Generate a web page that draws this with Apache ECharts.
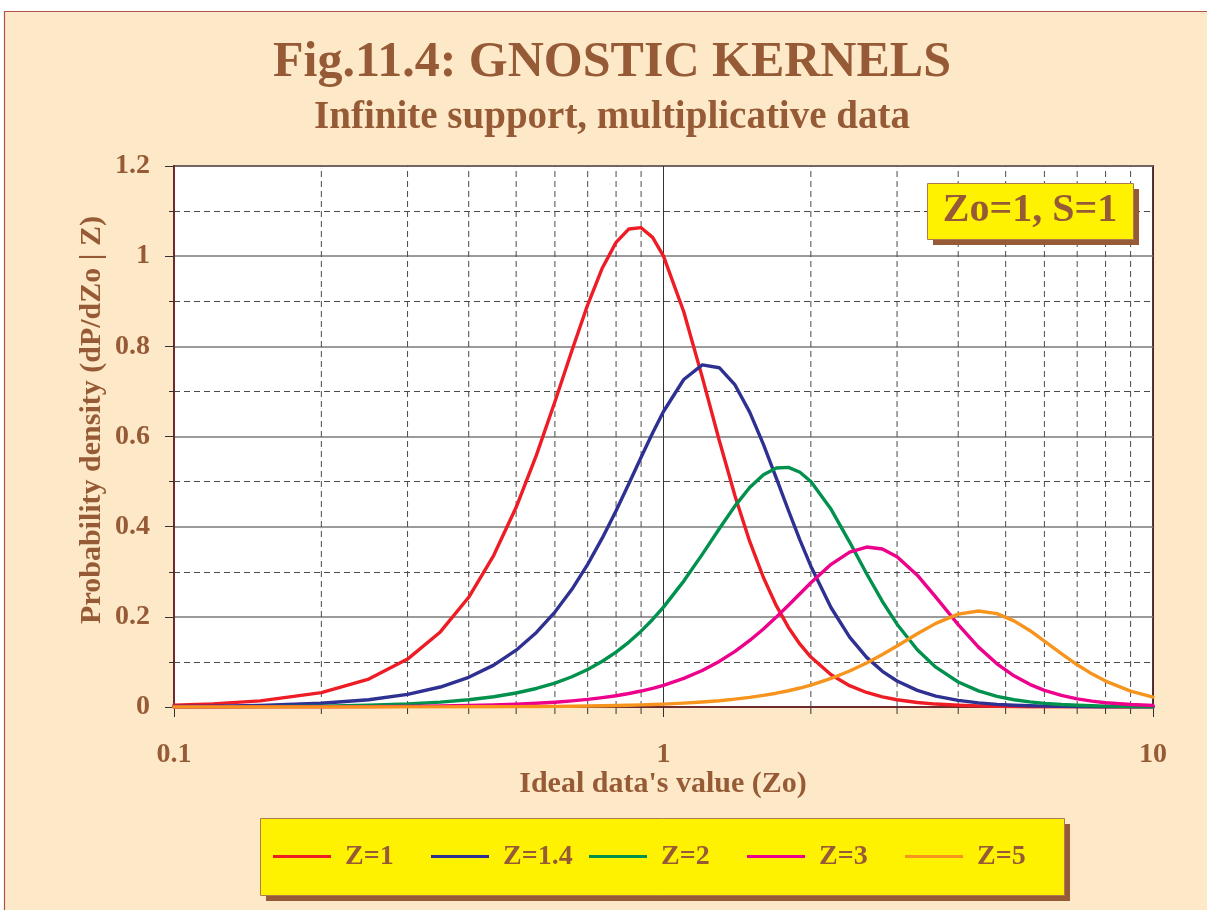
<!DOCTYPE html>
<html>
<head>
<meta charset="utf-8">
<title>Fig.11.4: GNOSTIC KERNELS</title>
<script src="https://cdn.jsdelivr.net/npm/echarts@6/dist/echarts.min.js"></script>
<style>
  html, body { margin: 0; padding: 0; background: #ffffff; }
  #chart { width: 1207px; height: 910px; }
</style>
</head>
<body>
<div id="chart"></div>
<script>
// Ideal data values Zo (log-scaled abscissa)
const zo = [0.1, 0.12, 0.15, 0.2, 0.25, 0.3, 0.35, 0.4, 0.45, 0.5,
  0.55, 0.6, 0.65, 0.7, 0.75, 0.8, 0.85, 0.9, 0.95, 1,
  1.1, 1.2, 1.3, 1.4, 1.5, 1.6, 1.7, 1.8, 1.9, 2,
  2.2, 2.4, 2.6, 2.8, 3, 3.3, 3.6, 4, 4.4, 4.8,
  5.2, 5.6, 6, 6.5, 7, 7.5, 8, 9, 10];

// Probability density dP/dZo for each observed value Z
const densZ1 = [0.0040, 0.0069, 0.0135, 0.0319, 0.0620, 0.1063, 0.1665, 0.2434, 0.3364, 0.4429,
  0.5586, 0.6771, 0.7909, 0.8922, 0.9738, 1.0307, 1.0604, 1.0632, 1.0416, 1.0000,
  0.8768, 0.7317, 0.5910, 0.4682, 0.3673, 0.2872, 0.2247, 0.1765, 0.1393, 0.1107,
  0.0714, 0.0473, 0.0322, 0.0225, 0.0161, 0.0101, 0.0065, 0.0039, 0.0024, 0.0016,
  0.0011, 0.0007, 0.0005, 0.0003, 0.0002, 0.0002, 0.0001, 0.0001, 0.0000];
const densZ14 = [0.0010, 0.0018, 0.0035, 0.0083, 0.0162, 0.0280, 0.0443, 0.0658, 0.0929, 0.1260,
  0.1653, 0.2105, 0.2611, 0.3164, 0.3750, 0.4353, 0.4956, 0.5538, 0.6077, 0.6555,
  0.7265, 0.7589, 0.7526, 0.7143, 0.6541, 0.5825, 0.5077, 0.4359, 0.3702, 0.3123,
  0.2201, 0.1550, 0.1101, 0.0791, 0.0576, 0.0368, 0.0243, 0.0146, 0.0091, 0.0059,
  0.0040, 0.0028, 0.0020, 0.0013, 0.0009, 0.0007, 0.0005, 0.0003, 0.0002];
const densZ2 = [0.0003, 0.0004, 0.0008, 0.0020, 0.0039, 0.0067, 0.0107, 0.0160, 0.0227, 0.0310,
  0.0411, 0.0531, 0.0671, 0.0832, 0.1014, 0.1217, 0.1440, 0.1682, 0.1941, 0.2215,
  0.2793, 0.3386, 0.3955, 0.4461, 0.4869, 0.5154, 0.5302, 0.5316, 0.5208, 0.5000,
  0.4384, 0.3659, 0.2955, 0.2341, 0.1837, 0.1270, 0.0883, 0.0554, 0.0357, 0.0237,
  0.0161, 0.0113, 0.0081, 0.0054, 0.0038, 0.0027, 0.0019, 0.0011, 0.0006];
const densZ3 = [0.0000, 0.0001, 0.0002, 0.0004, 0.0008, 0.0013, 0.0021, 0.0032, 0.0045, 0.0062,
  0.0082, 0.0106, 0.0135, 0.0168, 0.0207, 0.0250, 0.0299, 0.0354, 0.0415, 0.0482,
  0.0634, 0.0811, 0.1012, 0.1235, 0.1476, 0.1731, 0.1994, 0.2257, 0.2513, 0.2755,
  0.3164, 0.3436, 0.3548, 0.3504, 0.3333, 0.2923, 0.2439, 0.1826, 0.1328, 0.0957,
  0.0691, 0.0502, 0.0369, 0.0256, 0.0180, 0.0130, 0.0095, 0.0054, 0.0032];
const densZ5 = [0.0000, 0.0000, 0.0000, 0.0001, 0.0001, 0.0002, 0.0003, 0.0004, 0.0006, 0.0008,
  0.0011, 0.0014, 0.0018, 0.0022, 0.0027, 0.0033, 0.0039, 0.0047, 0.0055, 0.0064,
  0.0085, 0.0110, 0.0139, 0.0174, 0.0213, 0.0257, 0.0306, 0.0361, 0.0421, 0.0487,
  0.0633, 0.0798, 0.0977, 0.1165, 0.1354, 0.1625, 0.1855, 0.2061, 0.2130, 0.2070,
  0.1911, 0.1697, 0.1463, 0.1182, 0.0936, 0.0735, 0.0574, 0.0353, 0.0221];

const seriesNames = ['Z=1', 'Z=1.4', 'Z=2', 'Z=3', 'Z=5'];
const seriesValues = [densZ1, densZ14, densZ2, densZ3, densZ5];
const seriesColors = ['#ee1d25', '#2e3192', '#00914c', '#ec008c', '#f7941d'];

// Intermediate decade positions that get dashed grid lines and short ticks
const minorX = [0.2, 0.3, 0.4, 0.5, 0.6, 0.7, 0.8, 0.9, 2, 3, 4, 5, 6, 7, 8, 9];

const BROWN = '#965b36';
const FONT = '"Liberation Serif", "Times New Roman", serif';

const chart = echarts.init(document.getElementById('chart'), null, { renderer: 'canvas' });

const lineSeries = seriesNames.map((name, k) => ({
  name: name,
  type: 'line',
  data: zo.map((x, i) => [x, seriesValues[k][i]]),
  showSymbol: false,
  symbol: 'none',
  smooth: false,
  z: 3,
  lineStyle: { color: seriesColors[k], width: 3.4, join: 'round', cap: 'round' },
  itemStyle: { color: seriesColors[k] }
}));

// Dashed verticals at 2..9 within each decade, plus their outward ticks
const minorGrid = {
  type: 'custom',
  name: 'minor-grid',
  clip: false,
  silent: true,
  z: 1,
  data: minorX.map(v => [v, 0]),
  encode: { x: 0, y: 1 },
  renderItem: function (params, api) {
    const x = api.value(0);
    const top = api.coord([x, 1.2]);
    const bot = api.coord([x, 0]);
    return {
      type: 'group',
      children: [
        {
          type: 'line',
          shape: { x1: bot[0], y1: bot[1], x2: top[0], y2: top[1] },
          style: { stroke: '#4a4a4a', lineWidth: 1, lineDash: [6, 4] }
        },
        {
          type: 'line',
          shape: { x1: bot[0], y1: bot[1], x2: bot[0], y2: bot[1] + 7 },
          style: { stroke: '#333333', lineWidth: 1 }
        }
      ]
    };
  }
};

const option = {
  backgroundColor: '#fde9c8',
  animation: false,
  textStyle: { fontFamily: FONT },
  grid: {
    left: 174, top: 166, width: 979, height: 541,
    show: true,
    backgroundColor: '#ffffff',
    borderColor: '#6e2b2e',
    borderWidth: 2
  },
  xAxis: {
    type: 'log',
    logBase: 10,
    min: 0.1,
    max: 10,
    axisLine: { show: true, lineStyle: { color: '#6e2b2e', width: 2 } },
    axisTick: { show: true, length: 10, lineStyle: { color: '#333333', width: 1 } },
    axisLabel: {
      color: BROWN, fontFamily: FONT, fontWeight: 'bold', fontSize: 28,
      margin: 34
    },
    splitLine: { show: true, lineStyle: { color: '#333333', width: 1 } },
    minorTick: { show: false },
    minorSplitLine: { show: false }
  },
  yAxis: {
    type: 'value',
    min: 0,
    max: 1.2,
    interval: 0.2,
    axisLine: { show: true, lineStyle: { color: '#6e2b2e', width: 2 } },
    axisTick: { show: true, length: 9, lineStyle: { color: '#333333', width: 1 } },
    minorTick: { show: true, splitNumber: 2, length: 5, lineStyle: { color: '#333333', width: 1 } },
    axisLabel: {
      color: BROWN, fontFamily: FONT, fontWeight: 'bold', fontSize: 28,
      margin: 24
    },
    splitLine: { show: true, lineStyle: { color: '#7a7a7a', width: 1.5 } },
    minorSplitLine: { show: true, lineStyle: { color: '#4a4a4a', width: 1, type: [6, 4] } }
  },
  legend: {
    data: seriesNames,
    left: 260,
    top: 818,
    padding: [24, 12, 24, 13],
    itemWidth: 58,
    itemHeight: 3,
    itemGap: 11,
    z: 6,
    icon: 'path://M0,0 L58,0 L58,3 L0,3 Z',
    textStyle: {
      color: BROWN, fontFamily: FONT, fontWeight: 'bold', fontSize: 28,
      width: 75, lineHeight: 29, padding: [0, 0, 0, 9]
    }
  },
  graphic: [
    // white margin outside the page frame
    { type: 'rect', left: 0, top: 0, shape: { width: 1207, height: 11 }, style: { fill: '#ffffff' }, z: 0 },
    { type: 'rect', left: 0, top: 0, shape: { width: 4, height: 910 }, style: { fill: '#ffffff' }, z: 0 },
    { type: 'line', shape: { x1: 4, y1: 11.5, x2: 1207, y2: 11.5 }, style: { stroke: '#b4504c', lineWidth: 1.2 }, z: 1 },
    { type: 'line', shape: { x1: 4.5, y1: 11, x2: 4.5, y2: 910 }, style: { stroke: '#b4504c', lineWidth: 1.2 }, z: 1 },
    // titles
    {
      type: 'text', x: 612, y: 63, z: 5,
      style: {
        text: 'Fig.11.4: GNOSTIC KERNELS', fill: BROWN,
        font: 'bold 50px ' + FONT, textAlign: 'center', textVerticalAlign: 'middle'
      }
    },
    {
      type: 'text', x: 612, y: 118, z: 5,
      style: {
        text: 'Infinite support, multiplicative data', fill: BROWN,
        font: 'bold 39px ' + FONT, textAlign: 'center', textVerticalAlign: 'middle'
      }
    },
    // axis titles
    {
      type: 'text', x: 92, y: 420, rotation: Math.PI / 2, z: 5,
      style: {
        text: 'Probability density (dP/dZo | Z)', fill: BROWN,
        font: 'bold 30px ' + FONT, textAlign: 'center', textVerticalAlign: 'middle'
      }
    },
    {
      type: 'text', x: 663, y: 784, z: 5,
      style: {
        text: "Ideal data's value (Zo)", fill: BROWN,
        font: 'bold 30px ' + FONT, textAlign: 'center', textVerticalAlign: 'middle'
      }
    },
    // parameter box
    { type: 'rect', left: 933, top: 189, shape: { width: 206, height: 56 }, style: { fill: BROWN }, z: 8 },
    { type: 'rect', left: 927, top: 183, shape: { width: 206, height: 56 }, style: { fill: '#fff200', stroke: '#b07a50', lineWidth: 1 }, z: 9 },
    {
      type: 'text', x: 1030, y: 211, z: 10,
      style: {
        text: 'Zo=1, S=1', fill: BROWN,
        font: 'bold 40px ' + FONT, textAlign: 'center', textVerticalAlign: 'middle'
      }
    },
    // legend frame
    { type: 'rect', left: 266, top: 824, shape: { width: 804, height: 77 }, style: { fill: BROWN }, z: 2 },
    { type: 'rect', left: 260, top: 818, shape: { width: 804, height: 77 }, style: { fill: '#fff200', stroke: '#b07a50', lineWidth: 1 }, z: 3 }
  ],
  series: [minorGrid].concat(lineSeries)
};

chart.setOption(option);
</script>
</body>
</html>
